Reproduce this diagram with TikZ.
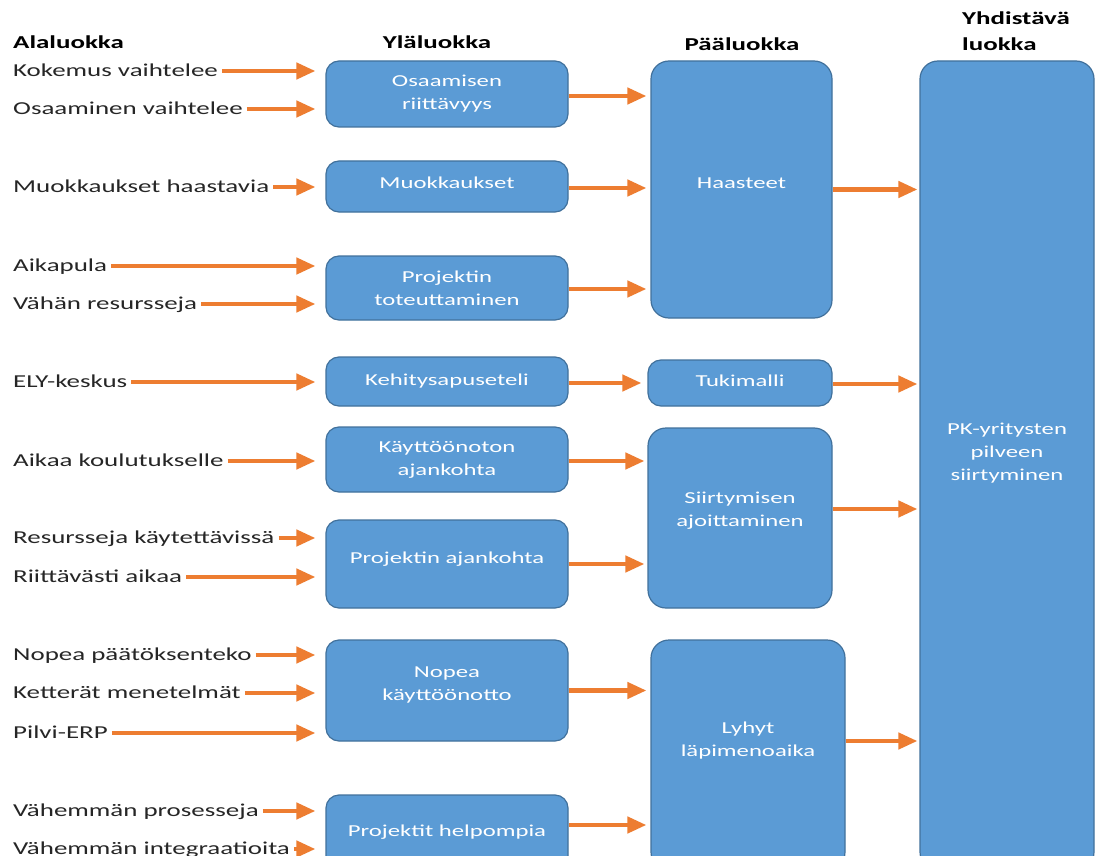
\documentclass[tikz,border=0pt]{standalone}
\usepackage{fontspec}
\setmainfont{Carlito}[FakeStretch=1.48]
\usetikzlibrary{arrows.meta}
\definecolor{boxfill}{HTML}{5B9BD5}
\definecolor{boxline}{HTML}{41719C}
\definecolor{arrowc}{HTML}{ED7D31}
\definecolor{labtext}{HTML}{262626}

\begin{document}
\begin{tikzpicture}[x=1pt,y=-1pt,
  box/.style={draw=boxline, fill=boxfill, line width=1.2pt, text=white,
    align=center, font=\fontsize{16.7}{23}\selectfont, inner sep=0pt,
    rounded corners=13pt},
  tall/.style={box, rounded corners=18pt},
  boxtxt/.style={text=white, align=center, inner sep=0pt,
    font=\fontsize{16.7}{23}\selectfont},
  lab/.style={anchor=west, inner sep=0pt, font=\fontsize{18.2}{22}\selectfont,
    text height=14pt, text depth=2.5pt, text=labtext},
  head/.style={inner sep=0pt, text=black, font=\fontsize{18.2}{26}\selectfont\bfseries},
  flow/.style={draw=arrowc, line width=4.3pt, -{Triangle[length=19pt,width=16pt]}},
]
\useasboundingbox (0,0) rectangle (1095,856);
\clip (0,0) rectangle (1095,856);
\fill[white] (0,0) rectangle (1095,856);

% column headings
\node[head, anchor=west] (h1) at (13,42) {Alaluokka};
\node[head] (h2) at (437,42) {Yläluokka};
\node[head] (h3) at (742,44) {Pääluokka};
\node[head, anchor=west, align=left] (h4) at (962,31) {Yhdistävä\\luokka};

% upper categories
\node[box, minimum width=242pt, minimum height=66pt]  (osa) at (447,94)    {Osaamisen\\riittävyys};
\node[box, minimum width=242pt, minimum height=51pt,
      label={[boxtxt, yshift=4pt]center:Muokkaukset}] (muo) at (447,186.5) {};
\node[box, minimum width=242pt, minimum height=64pt]  (pto) at (447,288)   {Projektin\\toteuttaminen};
\node[box, minimum width=242pt, minimum height=49pt]  (keh) at (447,381.5) {Kehitysapuseteli};
\node[box, minimum width=242pt, minimum height=65pt]  (kay) at (447,459.5) {Käyttöönoton\\ajankohta};
\node[box, minimum width=242pt, minimum height=88pt,
      label={[boxtxt, yshift=5pt]center:Projektin ajankohta}] (paj) at (447,564) {};
\node[box, minimum width=242pt, minimum height=101pt,
      label={[boxtxt, yshift=6pt]center:Nopea\\käyttöönotto}] (nko) at (447,690.5) {};
\node[box, minimum width=242pt, minimum height=75pt]  (phe) at (447,832.5) {Projektit helpompia};

% main categories
\node[tall, minimum width=181pt, minimum height=257pt,
      label={[boxtxt, yshift=6pt]center:Haasteet}] (haa) at (741.5,189.5) {};
\node[box,  minimum width=184pt, minimum height=46pt,
      label={[boxtxt, yshift=2pt]center:Tukimalli}] (tuk) at (740,383) {};
\node[tall, minimum width=184pt, minimum height=180pt,
      label={[boxtxt, yshift=7pt]center:Siirtymisen\\ajoittaminen}] (sii) at (740,518) {};
\node[tall, minimum width=194pt, minimum height=230pt,
      label={[boxtxt, yshift=14pt]center:Lyhyt\\läpimenoaika}] (lyh) at (748,755) {};

% combining category
\node[tall, minimum width=174pt, minimum height=809pt,
      label={[boxtxt, yshift=12pt]center:PK-yritysten\\pilveen\\siirtyminen}] (pk) at (1007,465.5) {};

% sub categories
\node[lab] (l1)  at (13,71)  {Kokemus vaihtelee};
\node[lab] (l2)  at (13,109) {Osaaminen vaihtelee};
\node[lab] (l3)  at (13,187) {Muokkaukset haastavia};
\node[lab] (l4)  at (13,266) {Aikapula};
\node[lab] (l5)  at (13,304) {Vähän resursseja};
\node[lab] (l6)  at (13,382) {ELY-keskus};
\node[lab] (l7)  at (13,461) {Aikaa koulutukselle};
\node[lab] (l8)  at (13,538) {Resursseja käytettävissä};
\node[lab] (l9)  at (13,577) {Riittävästi aikaa};
\node[lab] (l10) at (13,655) {Nopea päätöksenteko};
\node[lab] (l11) at (13,693) {Ketterät menetelmät};
\node[lab] (l12) at (13,733) {Pilvi-ERP};
\node[lab] (l13) at (13,811) {Vähemmän prosesseja};
\node[lab] (l14) at (13,849) {Vähemmän integraatioita};

% sub -> upper
\foreach \l/\b in {l1/osa, l2/osa, l3/muo, l4/pto, l5/pto, l6/keh, l7/kay,
                   l8/paj, l9/paj, l10/nko, l11/nko, l12/nko, l13/phe, l14/phe}
  \draw[flow, shorten <=4pt, shorten >=10pt] (\l.east) -- (\l.east -| \b.west);

% upper -> main
\draw[flow, shorten >=4pt] ([yshift=-2pt]osa.east) -- ([yshift=-2pt]osa.east -| haa.west);
\draw[flow, shorten >=4pt] ([yshift=-1.5pt]muo.east) -- ([yshift=-1.5pt]muo.east -| haa.west);
\draw[flow, shorten >=4pt] ([yshift=-1pt]pto.east) -- ([yshift=-1pt]pto.east -| haa.west);
\draw[flow, shorten >=6pt] ([yshift=-1.5pt]keh.east) -- ([yshift=-1.5pt]keh.east -| tuk.west);
\draw[flow, shorten >=3pt] ([yshift=-1.5pt]kay.east) -- ([yshift=-1.5pt]kay.east -| sii.west);
\draw[flow, shorten >=3pt] (paj.east) -- (paj.east -| sii.west);
\draw[flow, shorten >=4pt] (nko.east) -- (nko.east -| lyh.west);
\draw[flow, shorten >=4pt] ([yshift=7.5pt]phe.east) -- ([yshift=7.5pt]phe.east -| lyh.west);

% main -> combining
\draw[flow, shorten >=2pt] (haa.east) -- (haa.east -| pk.west);
\draw[flow, shorten >=2pt] ([yshift=-1pt]tuk.east) -- ([yshift=-1pt]tuk.east -| pk.west);
\draw[flow, shorten >=2pt] ([yshift=9pt]sii.east) -- ([yshift=9pt]sii.east -| pk.west);
\draw[flow, shorten >=2pt] ([yshift=14pt]lyh.east) -- ([yshift=14pt]lyh.east -| pk.west);
\end{tikzpicture}
\end{document}
